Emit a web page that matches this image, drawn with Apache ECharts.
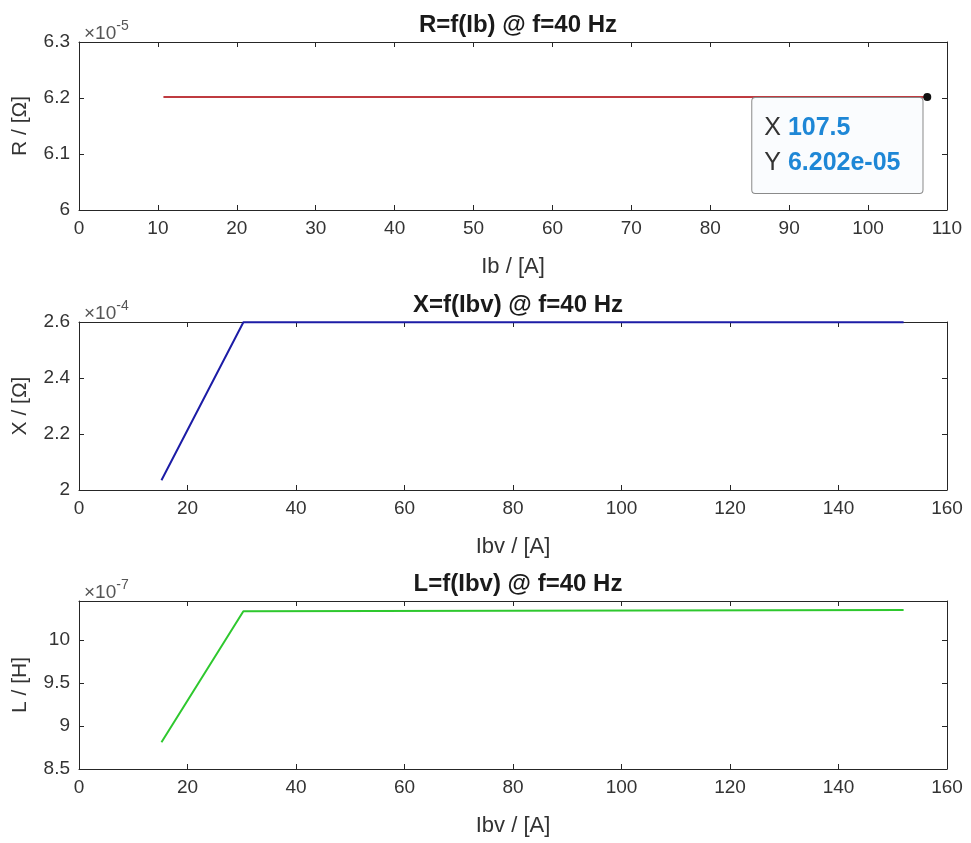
<!DOCTYPE html>
<html>
<head>
<meta charset="utf-8">
<title>R, X, L @ f=40 Hz</title>
<script src="https://cdn.jsdelivr.net/npm/echarts@6/dist/echarts.min.js"></script>
<style>
  html, body { margin: 0; padding: 0; background: #fff; }
  #chart { width: 971px; height: 843px; }
</style>
</head>
<body>
<div id="chart"></div>
<script>
// R over Ib, values in units of 1e-5 Ohm
const rIb = [10.7, 107.5];
const rVal = [6.202, 6.202];
// X over Ibv, values in units of 1e-4 Ohm
const xIbv = [15.2, 30.3, 152];
const xVal = [2.035, 2.599, 2.599];
// L over Ibv, values in units of 1e-7 H
const lIbv = [15.2, 30.3, 152];
const lVal = [8.81, 10.33, 10.345];

const titles = ['R=f(Ib) @ f=40 Hz', 'X=f(Ibv) @ f=40 Hz', 'L=f(Ibv) @ f=40 Hz'];
const xNames = ['Ib / [A]', 'Ibv / [A]', 'Ibv / [A]'];
const yNames = ['R / [Ω]', 'X / [Ω]', 'L / [H]'];
const exponents = ['-5', '-4', '-7'];
// data tip shown on the last R point
const tipX = '107.5';
const tipY = '6.202e-05';

const font = '"Liberation Sans", Arial, sans-serif';
const textColor = '#333';
const axisColor = '#262626';

const panels = [
  { top: 42, x: [0, 110, 10], y: [6, 6.3, 0.1], xs: rIb, ys: rVal, color: '#bf3b40' },
  { top: 322, x: [0, 160, 20], y: [2, 2.6, 0.2], xs: xIbv, ys: xVal, color: '#1c1ca6' },
  { top: 601, x: [0, 160, 20], y: [8.5, 10.45, 0.5], xs: lIbv, ys: lVal, color: '#2ec82e' }
];

const grid = [];
const xAxis = [];
const yAxis = [];
const series = [];
const title = [];

panels.forEach((p, i) => {
  grid.push({ left: 79, right: 24, top: p.top, height: 168, containLabel: false });

  const tick = { show: true, inside: true, length: 5, lineStyle: { color: axisColor } };
  const line = { show: true, onZero: false, lineStyle: { color: axisColor, width: 1 } };

  xAxis.push({
    type: 'value', gridIndex: i, position: 'bottom',
    min: p.x[0], max: p.x[1], interval: p.x[2],
    axisLine: line, axisTick: tick, splitLine: { show: false },
    axisLabel: { color: textColor, fontSize: 19, fontFamily: font, margin: 9 },
    name: xNames[i], nameLocation: 'middle', nameGap: 46,
    nameTextStyle: { color: textColor, fontSize: 22, fontFamily: font }
  });
  xAxis.push({
    type: 'value', gridIndex: i, position: 'top',
    min: p.x[0], max: p.x[1], interval: p.x[2],
    axisLine: line, axisTick: tick, axisLabel: { show: false }, splitLine: { show: false }
  });

  yAxis.push({
    type: 'value', gridIndex: i, position: 'left',
    min: p.y[0], max: p.y[1], interval: p.y[2],
    axisLine: line, axisTick: tick, splitLine: { show: false },
    axisLabel: { color: textColor, fontSize: 19, fontFamily: font, margin: 9, showMaxLabel: i !== 2 },
    name: yNames[i], nameLocation: 'middle', nameGap: 48,
    nameTextStyle: { color: textColor, fontSize: 21, fontFamily: font }
  });
  yAxis.push({
    type: 'value', gridIndex: i, position: 'right',
    min: p.y[0], max: p.y[1], interval: p.y[2],
    axisLine: line, axisTick: tick, axisLabel: { show: false }, splitLine: { show: false }
  });

  const data = p.xs.map((x, k) => [x, p.ys[k]]);
  const s = {
    type: 'line', xAxisIndex: i * 2, yAxisIndex: i * 2,
    data: data, symbol: 'none', showSymbol: false,
    lineStyle: { color: p.color, width: 2 },
    animation: false, silent: true
  };
  if (i === 0) {
    const last = data.length - 1;
    s.showSymbol = true;
    s.data = data.map((d, k) => k !== last ? { value: d, symbol: 'none' } : {
      value: d, symbol: 'circle', symbolSize: 8, itemStyle: { color: '#111' },
      label: {
        show: true, position: [-171, 5], fontFamily: font, fontSize: 25,
        formatter: '{k|X} {v|' + tipX + '}\n{k|Y} {v|' + tipY + '}',
        backgroundColor: '#fafcfe', borderColor: '#8a8a8a', borderWidth: 1, borderRadius: 3,
        padding: [13, 22, 12, 12],
        rich: {
          k: { color: '#333', fontSize: 25, lineHeight: 35, fontFamily: font },
          v: { color: '#1e87d6', fontSize: 25, lineHeight: 35, fontWeight: 'bold', fontFamily: font }
        }
      }
    });
  }
  series.push(s);

  title.push({
    text: titles[i], left: 513, top: p.top - 34, textAlign: 'center',
    textStyle: { color: '#1a1a1a', fontSize: 24, fontWeight: 'bold', fontFamily: font }
  });
  title.push({
    text: '{a|×10}{b|' + exponents[i] + '}', left: 79, top: p.top - 28,
    textStyle: {
      fontWeight: 'normal',
      rich: {
        a: { color: '#555', fontSize: 19, lineHeight: 24, fontWeight: 'normal', verticalAlign: 'bottom', fontFamily: font },
        b: { color: '#555', fontSize: 14, lineHeight: 24, fontWeight: 'normal', verticalAlign: 'top', fontFamily: font }
      }
    }
  });
});

const chart = echarts.init(document.getElementById('chart'));
chart.setOption({
  backgroundColor: '#fff',
  animation: false,
  title: title,
  grid: grid,
  xAxis: xAxis,
  yAxis: yAxis,
  series: series
});
</script>
</body>
</html>
